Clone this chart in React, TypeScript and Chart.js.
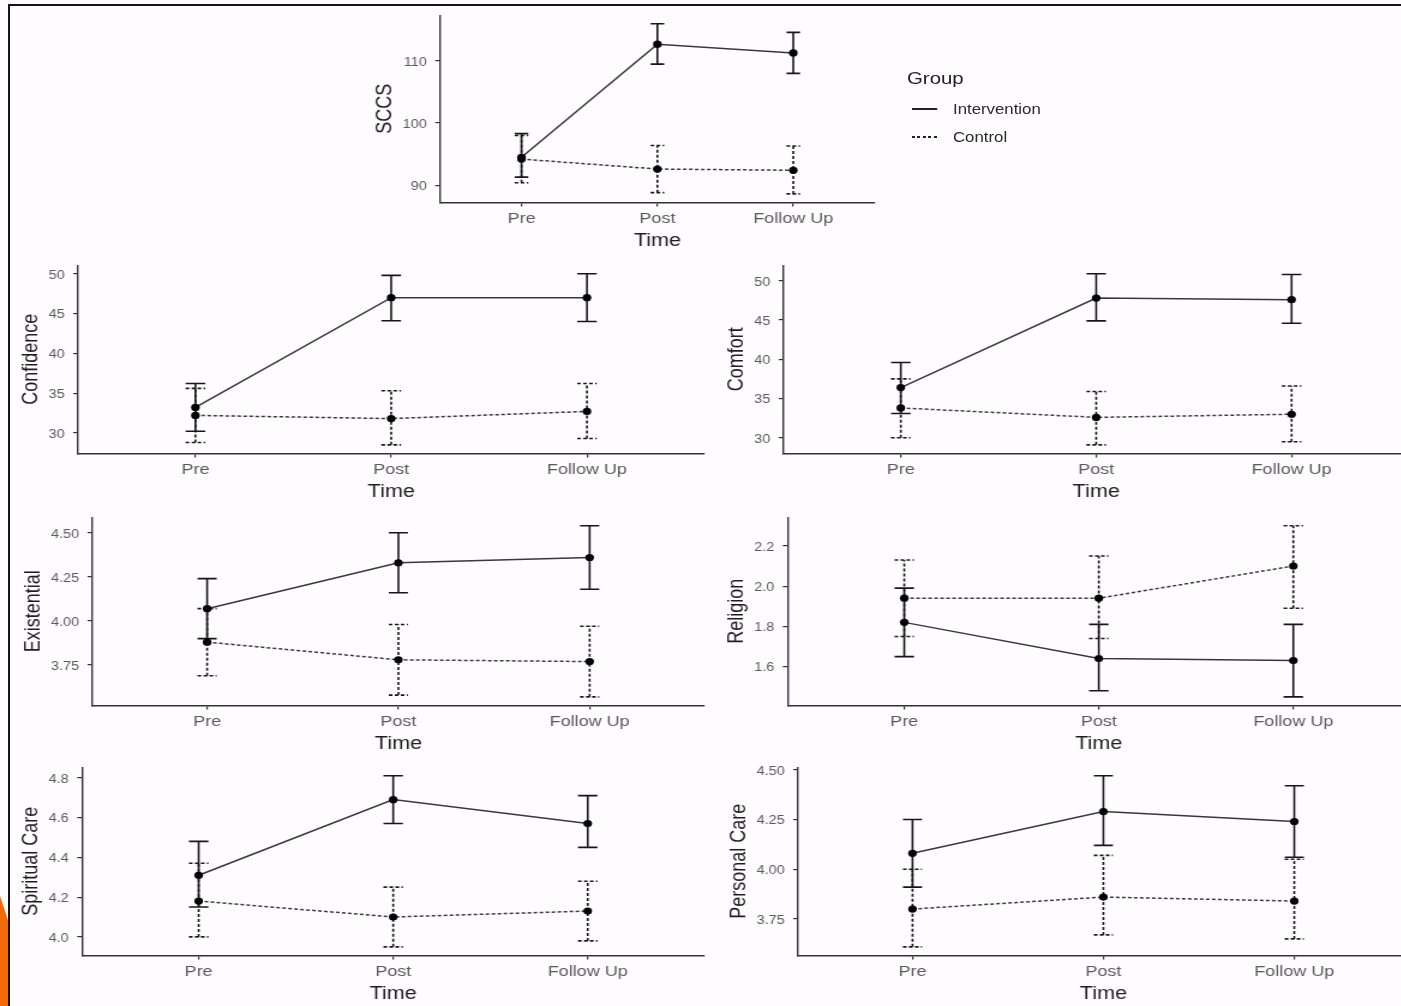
import React, { useEffect, useRef } from 'react';
import { Chart, registerables } from 'chart.js';

Chart.register(...registerables);

// ---------- data ----------
const timePoints = ['Pre', 'Post', 'Follow Up'];
const groupNames = ['Intervention', 'Control'];

const sccsIntervention = [94.5, 112.7, 111.3];
const sccsInterventionLo = [91.3, 109.5, 108.0];
const sccsInterventionHi = [98.3, 116.0, 114.6];
const sccsControl = [94.2, 92.6, 92.4];
const sccsControlLo = [90.4, 88.8, 88.6];
const sccsControlHi = [98.0, 96.4, 96.3];
const sccsTicks = [90, 100, 110];

const confidenceIntervention = [33.2, 47.0, 47.0];
const confidenceInterventionLo = [30.2, 44.1, 44.0];
const confidenceInterventionHi = [36.2, 49.8, 50.0];
const confidenceControl = [32.2, 31.8, 32.7];
const confidenceControlLo = [28.8, 28.5, 29.3];
const confidenceControlHi = [35.6, 35.3, 36.2];
const confidenceTicks = [30, 35, 40, 45, 50];

const comfortIntervention = [36.4, 47.8, 47.6];
const comfortInterventionLo = [33.1, 44.9, 44.6];
const comfortInterventionHi = [39.6, 50.9, 50.8];
const comfortControl = [33.8, 32.6, 33.0];
const comfortControlLo = [30.0, 29.1, 29.5];
const comfortControlHi = [37.5, 35.9, 36.6];
const comfortTicks = [30, 35, 40, 45, 50];

const existentialIntervention = [4.07, 4.33, 4.36];
const existentialInterventionLo = [3.9, 4.16, 4.18];
const existentialInterventionHi = [4.24, 4.5, 4.54];
const existentialControl = [3.88, 3.78, 3.77];
const existentialControlLo = [3.69, 3.58, 3.57];
const existentialControlHi = [4.07, 3.98, 3.97];
const existentialTicks = [3.75, 4.0, 4.25, 4.5];

const religionIntervention = [1.82, 1.64, 1.63];
const religionInterventionLo = [1.65, 1.48, 1.45];
const religionInterventionHi = [1.99, 1.81, 1.81];
const religionControl = [1.94, 1.94, 2.1];
const religionControlLo = [1.75, 1.74, 1.89];
const religionControlHi = [2.13, 2.15, 2.3];
const religionTicks = [1.6, 1.8, 2.0, 2.2];

const spiritualIntervention = [4.31, 4.69, 4.57];
const spiritualInterventionLo = [4.15, 4.57, 4.45];
const spiritualInterventionHi = [4.48, 4.81, 4.71];
const spiritualControl = [4.18, 4.1, 4.13];
const spiritualControlLo = [4.0, 3.95, 3.98];
const spiritualControlHi = [4.37, 4.25, 4.28];
const spiritualTicks = [4.0, 4.2, 4.4, 4.6, 4.8];

const personalIntervention = [4.08, 4.29, 4.24];
const personalInterventionLo = [3.91, 4.12, 4.06];
const personalInterventionHi = [4.25, 4.47, 4.42];
const personalControl = [3.8, 3.86, 3.84];
const personalControlLo = [3.61, 3.67, 3.65];
const personalControlHi = [4.0, 4.07, 4.05];
const personalTicks = [3.75, 4.0, 4.25, 4.5];

// ---------- style / layout ----------
const S = 1.2; // horizontal stretch of the original picture
const FONT = '"Liberation Sans", Arial, Helvetica, sans-serif';
const AXIS = '#333333';
const TICK = '#5a5a5a';
const TITLE = '#1e1e1e';
const LINE = '#383838';
const ERR = '#161616';
const CAP = 0.05;
const DASH = [3, 2];

type Measure = {
  title: string;
  ticks: number[];
  decimals: number;
  series: { mean: number[]; lo: number[]; hi: number[] }[];
  box: [number, number, number, number];
};

const MEASURES: Measure[] = [
  {
    title: 'SCCS', ticks: sccsTicks, decimals: 0,
    series: [
      { mean: sccsIntervention, lo: sccsInterventionLo, hi: sccsInterventionHi },
      { mean: sccsControl, lo: sccsControlLo, hi: sccsControlHi },
    ],
    box: [440, 15, 875, 202.5],
  },
  {
    title: 'Confidence', ticks: confidenceTicks, decimals: 0,
    series: [
      { mean: confidenceIntervention, lo: confidenceInterventionLo, hi: confidenceInterventionHi },
      { mean: confidenceControl, lo: confidenceControlLo, hi: confidenceControlHi },
    ],
    box: [77.5, 265, 703.5, 453.5],
  },
  {
    title: 'Comfort', ticks: comfortTicks, decimals: 0,
    series: [
      { mean: comfortIntervention, lo: comfortInterventionLo, hi: comfortInterventionHi },
      { mean: comfortControl, lo: comfortControlLo, hi: comfortControlHi },
    ],
    box: [783, 265, 1408, 453.5],
  },
  {
    title: 'Existential', ticks: existentialTicks, decimals: 2,
    series: [
      { mean: existentialIntervention, lo: existentialInterventionLo, hi: existentialInterventionHi },
      { mean: existentialControl, lo: existentialControlLo, hi: existentialControlHi },
    ],
    box: [92, 517, 704.5, 705.5],
  },
  {
    title: 'Religion', ticks: religionTicks, decimals: 1,
    series: [
      { mean: religionIntervention, lo: religionInterventionLo, hi: religionInterventionHi },
      { mean: religionControl, lo: religionControlLo, hi: religionControlHi },
    ],
    box: [787, 517, 1409.5, 705.5],
  },
  {
    title: 'Spiritual Care', ticks: spiritualTicks, decimals: 1,
    series: [
      { mean: spiritualIntervention, lo: spiritualInterventionLo, hi: spiritualInterventionHi },
      { mean: spiritualControl, lo: spiritualControlLo, hi: spiritualControlHi },
    ],
    box: [82, 767.5, 704.5, 956],
  },
  {
    title: 'Personal Care', ticks: personalTicks, decimals: 2,
    series: [
      { mean: personalIntervention, lo: personalInterventionLo, hi: personalInterventionHi },
      { mean: personalControl, lo: personalControlLo, hi: personalControlHi },
    ],
    box: [797.5, 767.5, 1408, 956],
  },
];

function errorSegments(mean: number[], lo: number[], hi: number[]) {
  const pts: { x: number; y: number | null }[] = [];
  mean.forEach((_, i) => {
    pts.push(
      { x: i - CAP, y: hi[i] }, { x: i + CAP, y: hi[i] }, { x: i, y: null },
      { x: i, y: lo[i] }, { x: i, y: hi[i] }, { x: i, y: null },
      { x: i - CAP, y: lo[i] }, { x: i + CAP, y: lo[i] }, { x: i, y: null },
    );
  });
  return pts;
}

function Panel({ m }: { m: Measure }) {
  const wrapRef = useRef<HTMLDivElement>(null);
  const canvasRef = useRef<HTMLCanvasElement>(null);

  useEffect(() => {
    const canvas = canvasRef.current!;
    const wrap = wrapRef.current!;
    const all: number[] = [];
    m.series.forEach((s) => all.push(...s.mean, ...s.lo, ...s.hi));
    const dMin = Math.min(...all);
    const dMax = Math.max(...all);
    const pad = (dMax - dMin) * 0.05;

    const datasets: any[] = [];
    m.series.forEach((s, gi) => {
      datasets.push({
        label: groupNames[gi],
        data: s.mean.map((v, i) => ({ x: i, y: v })),
        showLine: true,
        borderColor: LINE,
        borderWidth: 1.5,
        borderDash: gi === 1 ? DASH : [],
        pointRadius: 3.6,
        pointBackgroundColor: '#000',
        pointBorderColor: '#000',
        pointBorderWidth: 0,
        order: 0,
      });
    });
    m.series.forEach((s, gi) => {
      datasets.push({
        label: groupNames[gi] + ' error',
        data: errorSegments(s.mean, s.lo, s.hi),
        showLine: true,
        spanGaps: false,
        borderColor: ERR,
        borderWidth: 1.6,
        borderDash: gi === 1 ? DASH : [],
        pointRadius: 0,
        order: 1,
      });
    });

    const chart = new Chart(canvas, {
      type: 'scatter',
      data: { datasets },
      options: {
        animation: false,
        responsive: false,
        maintainAspectRatio: false,
        events: [],
        layout: { padding: { top: 10, right: 10, left: 0, bottom: 0 } },
        plugins: { legend: { display: false }, tooltip: { enabled: false } },
        scales: {
          x: {
            type: 'linear',
            min: -0.6,
            max: 2.6,
            afterBuildTicks: (s: any) => {
              s.ticks = timePoints.map((_, i) => ({ value: i }));
            },
            ticks: {
              callback: (v: any) => timePoints[Math.round(Number(v))] ?? '',
              font: { family: FONT, size: 15 },
              color: TICK,
              padding: 3,
              maxRotation: 0,
              autoSkip: false,
            },
            grid: { drawOnChartArea: false, tickLength: 4, color: AXIS, lineWidth: 1.2 },
            border: { display: true, color: AXIS, width: 1.4 },
            title: {
              display: true,
              text: 'Time',
              font: { family: FONT, size: 18 },
              color: TITLE,
              padding: { top: 0, bottom: 0 },
            },
          },
          y: {
            type: 'linear',
            min: dMin - pad,
            max: dMax + pad,
            afterBuildTicks: (s: any) => {
              s.ticks = m.ticks.map((v) => ({ value: v }));
            },
            ticks: {
              callback: (v: any) => Number(v).toFixed(m.decimals),
              font: { family: FONT, size: 12 },
              color: TICK,
              padding: 7,
              labelOffset: 1.5,
            },
            grid: { drawOnChartArea: false, tickLength: 4, color: AXIS, lineWidth: 1.2 },
            border: { display: true, color: AXIS, width: 1.4 },
            title: {
              display: true,
              text: m.title,
              font: { family: FONT, size: 18 },
              color: TITLE,
              padding: { top: 0, bottom: -3 },
            },
          },
        },
      } as any,
    });

    const fit = () => {
      const a = chart.chartArea;
      const ml = a.left;
      const mt = a.top;
      const mr = chart.width - a.right;
      const mb = chart.height - a.bottom;
      const L = m.box[0] / S;
      const T = m.box[1];
      const R = m.box[2] / S;
      const B = m.box[3];
      wrap.style.left = `${L - ml}px`;
      wrap.style.top = `${T - mt}px`;
      chart.resize(Math.round(R - L + ml + mr), Math.round(B - T + mt + mb));
    };
    fit();
    fit();

    return () => chart.destroy();
  }, [m]);

  return (
    <div ref={wrapRef} style={{ position: 'absolute', left: 0, top: 0 }}>
      <canvas ref={canvasRef} width={700} height={260} style={{ display: 'block' }} />
    </div>
  );
}

function Legend() {
  const items = groupNames.map((name, i) => {
    const yc = 109 + 28 * i;
    return (
      <React.Fragment key={name}>
        <div
          style={{
            position: 'absolute',
            left: 912 / S,
            top: yc - 0.75,
            width: 25 / S,
            height: 1.5,
            background:
              i === 0
                ? '#222'
                : 'repeating-linear-gradient(90deg, #222 0 2.5px, transparent 2.5px 4.5px)',
          }}
        />
        <div
          style={{
            position: 'absolute',
            left: 953 / S,
            top: yc - 9,
            font: `14px ${FONT}`,
            lineHeight: '18px',
            color: '#2a2a2a',
            whiteSpace: 'nowrap',
          }}
        >
          {name}
        </div>
      </React.Fragment>
    );
  });
  return (
    <>
      <div
        style={{
          position: 'absolute',
          left: 907 / S,
          top: 79 - 10,
          font: `17px ${FONT}`,
          lineHeight: '20px',
          color: '#222',
          whiteSpace: 'nowrap',
        }}
      >
        Group
      </div>
      {items}
    </>
  );
}

export default function App() {
  return (
    <div
      style={{
        position: 'absolute',
        left: 0,
        top: 0,
        width: 1401,
        height: 1006,
        overflow: 'hidden',
        background: '#fefcfe',
      }}
    >
      <div
        style={{
          position: 'absolute',
          left: 0,
          top: 0,
          width: 1401 / S,
          height: 1006,
          transform: `scaleX(${S})`,
          transformOrigin: '0 0',
        }}
      >
        {MEASURES.map((m) => (
          <Panel key={m.title} m={m} />
        ))}
        <Legend />
      </div>
      <div style={{ position: 'absolute', left: 8, top: 3.5, width: 1393, height: 2, background: '#151515' }} />
      <div style={{ position: 'absolute', left: 8, top: 3.5, width: 2, height: 1003, background: '#151515' }} />
      <div
        style={{
          position: 'absolute',
          left: 0,
          top: 896,
          width: 8,
          height: 110,
          background: '#f36a0c',
          clipPath: 'polygon(0 0, 100% 22%, 100% 100%, 0 100%)',
        }}
      />
    </div>
  );
}
